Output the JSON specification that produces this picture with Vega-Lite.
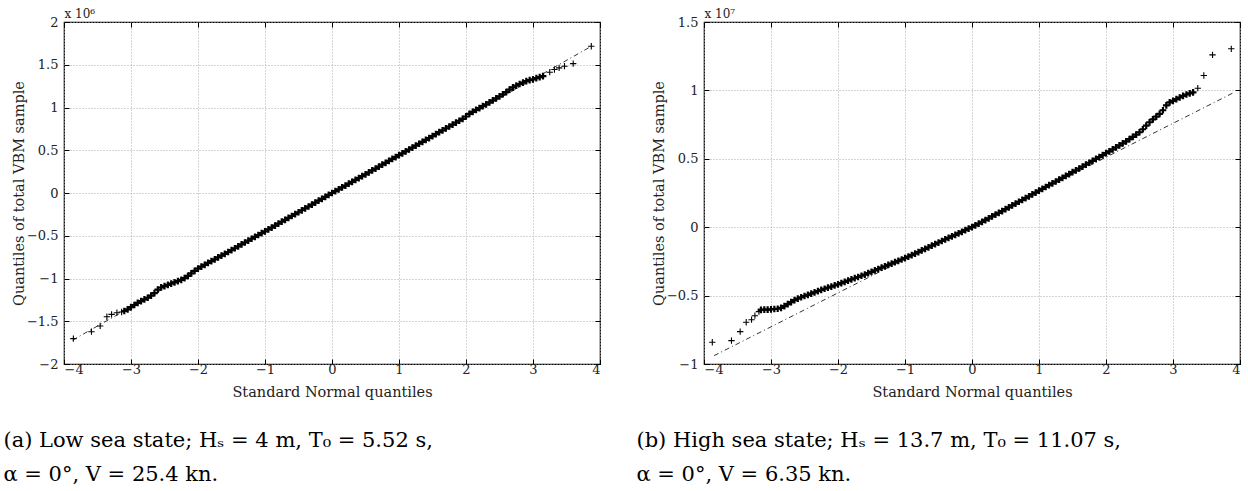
{
"$schema": "https://vega.github.io/schema/vega-lite/v6.json",
"padding": {"left": 2, "top": 6, "right": 2, "bottom": 2},
"background": "white",
"config": {
 "view": {"stroke": "#000", "strokeWidth": 1.2},
 "font": "DejaVu Serif",
 "axis": {"labelFont": "DejaVu Serif", "titleFont": "DejaVu Serif", "labelFontSize": 13, "titleFontSize": 14.5, "titleFontWeight": "normal", "labelColor": "#222", "titleColor": "#222", "tickColor": "#000", "tickSize": -5, "domain": false, "gridColor": "#aaaaaa", "gridDash": [1, 2], "gridWidth": 1, "format": "~g"},
 "title": {"font": "DejaVu Serif", "fontWeight": "normal", "color": "#000"}
},
"datasets": {
 "a_line": [{"q": -3.87, "v": -1.72}, {"q": 3.88, "v": 1.72}],
 "b_line": [{"q": -3.85, "v": -0.939}, {"q": 3.89, "v": 0.98}],
 "a_tail": [
  {"q": -3.86, "v": -1.703}, {"q": -3.59, "v": -1.622}, {"q": -3.46, "v": -1.555}, {"q": -3.36, "v": -1.447}, {"q": -3.29, "v": -1.42}, {"q": -3.21, "v": -1.4}, {"q": -3.14, "v": -1.392},
  {"q": 3.25, "v": 1.413}, {"q": 3.32, "v": 1.444}, {"q": 3.39, "v": 1.463}, {"q": 3.47, "v": 1.483}, {"q": 3.6, "v": 1.513}, {"q": 3.87, "v": 1.716}
 ],
 "a_pts": [
  {"q": -3.1, "v": -1.38}, {"q": -3.05, "v": -1.36}, {"q": -3.0, "v": -1.335}, {"q": -2.95, "v": -1.31}, {"q": -2.9, "v": -1.285}, {"q": -2.85, "v": -1.265}, {"q": -2.8, "v": -1.245}, {"q": -2.75, "v": -1.225}, {"q": -2.7, "v": -1.2}, {"q": -2.65, "v": -1.17}, {"q": -2.6, "v": -1.13}, {"q": -2.55, "v": -1.105}, {"q": -2.5, "v": -1.09}, {"q": -2.45, "v": -1.075}, {"q": -2.4, "v": -1.06}, {"q": -2.35, "v": -1.045}, {"q": -2.3, "v": -1.03}, {"q": -2.25, "v": -1.015}, {"q": -2.2, "v": -0.995}, {"q": -2.15, "v": -0.97}, {"q": -2.1, "v": -0.94}, {"q": -2.05, "v": -0.91},
  {"q": -2.0, "v": -0.885}, {"q": -1.95, "v": -0.862}, {"q": -1.9, "v": -0.84}, {"q": -1.85, "v": -0.818}, {"q": -1.8, "v": -0.797}, {"q": -1.75, "v": -0.776}, {"q": -1.7, "v": -0.754}, {"q": -1.65, "v": -0.733}, {"q": -1.6, "v": -0.712}, {"q": -1.55, "v": -0.69}, {"q": -1.5, "v": -0.668}, {"q": -1.45, "v": -0.646}, {"q": -1.4, "v": -0.624}, {"q": -1.35, "v": -0.601}, {"q": -1.3, "v": -0.579}, {"q": -1.25, "v": -0.557}, {"q": -1.2, "v": -0.535}, {"q": -1.15, "v": -0.513}, {"q": -1.1, "v": -0.491}, {"q": -1.05, "v": -0.47},
  {"q": -1.0, "v": -0.448}, {"q": -0.95, "v": -0.426}, {"q": -0.9, "v": -0.404}, {"q": -0.85, "v": -0.381}, {"q": -0.8, "v": -0.359}, {"q": -0.75, "v": -0.336}, {"q": -0.7, "v": -0.314}, {"q": -0.65, "v": -0.292}, {"q": -0.6, "v": -0.269}, {"q": -0.55, "v": -0.247}, {"q": -0.5, "v": -0.225}, {"q": -0.45, "v": -0.202}, {"q": -0.4, "v": -0.18}, {"q": -0.35, "v": -0.158}, {"q": -0.3, "v": -0.135}, {"q": -0.25, "v": -0.112}, {"q": -0.2, "v": -0.09}, {"q": -0.15, "v": -0.068}, {"q": -0.1, "v": -0.045}, {"q": -0.05, "v": -0.022},
  {"q": 0.0, "v": 0.0}, {"q": 0.05, "v": 0.021}, {"q": 0.1, "v": 0.043}, {"q": 0.15, "v": 0.065}, {"q": 0.2, "v": 0.087}, {"q": 0.25, "v": 0.109}, {"q": 0.3, "v": 0.131}, {"q": 0.35, "v": 0.153}, {"q": 0.4, "v": 0.175}, {"q": 0.45, "v": 0.197}, {"q": 0.5, "v": 0.219}, {"q": 0.55, "v": 0.241}, {"q": 0.6, "v": 0.264}, {"q": 0.65, "v": 0.286}, {"q": 0.7, "v": 0.308}, {"q": 0.75, "v": 0.331}, {"q": 0.8, "v": 0.353}, {"q": 0.85, "v": 0.375}, {"q": 0.9, "v": 0.398}, {"q": 0.95, "v": 0.42},
  {"q": 1.0, "v": 0.442}, {"q": 1.05, "v": 0.464}, {"q": 1.1, "v": 0.486}, {"q": 1.15, "v": 0.509}, {"q": 1.2, "v": 0.531}, {"q": 1.25, "v": 0.554}, {"q": 1.3, "v": 0.576}, {"q": 1.35, "v": 0.598}, {"q": 1.4, "v": 0.621}, {"q": 1.45, "v": 0.643}, {"q": 1.5, "v": 0.665}, {"q": 1.55, "v": 0.688}, {"q": 1.6, "v": 0.711}, {"q": 1.65, "v": 0.733}, {"q": 1.7, "v": 0.756}, {"q": 1.75, "v": 0.778}, {"q": 1.8, "v": 0.8}, {"q": 1.85, "v": 0.823}, {"q": 1.9, "v": 0.845}, {"q": 1.95, "v": 0.868},
  {"q": 2.0, "v": 0.895}, {"q": 2.05, "v": 0.925}, {"q": 2.1, "v": 0.95}, {"q": 2.15, "v": 0.972}, {"q": 2.2, "v": 0.993}, {"q": 2.25, "v": 1.015}, {"q": 2.3, "v": 1.037}, {"q": 2.35, "v": 1.06}, {"q": 2.4, "v": 1.083}, {"q": 2.45, "v": 1.106}, {"q": 2.5, "v": 1.13}, {"q": 2.55, "v": 1.155}, {"q": 2.6, "v": 1.18}, {"q": 2.65, "v": 1.21}, {"q": 2.7, "v": 1.235}, {"q": 2.75, "v": 1.255}, {"q": 2.8, "v": 1.275}, {"q": 2.85, "v": 1.292}, {"q": 2.9, "v": 1.308}, {"q": 2.95, "v": 1.32}, {"q": 3.0, "v": 1.33}, {"q": 3.05, "v": 1.343}, {"q": 3.1, "v": 1.355}, {"q": 3.15, "v": 1.368}
 ],
 "b_tail": [
  {"q": -3.876, "v": -0.841}, {"q": -3.59, "v": -0.829}, {"q": -3.46, "v": -0.763}, {"q": -3.37, "v": -0.695}, {"q": -3.29, "v": -0.676}, {"q": -3.24, "v": -0.647}, {"q": -3.18, "v": -0.617},
  {"q": 3.37, "v": 1.016}, {"q": 3.46, "v": 1.109}, {"q": 3.59, "v": 1.26}, {"q": 3.87, "v": 1.304}
 ],
 "b_pts": [
  {"q": -3.15, "v": -0.605}, {"q": -3.1, "v": -0.603}, {"q": -3.05, "v": -0.602}, {"q": -3.0, "v": -0.6}, {"q": -2.95, "v": -0.598}, {"q": -2.9, "v": -0.596}, {"q": -2.85, "v": -0.59}, {"q": -2.8, "v": -0.577}, {"q": -2.75, "v": -0.562}, {"q": -2.7, "v": -0.547}, {"q": -2.65, "v": -0.533}, {"q": -2.6, "v": -0.522}, {"q": -2.55, "v": -0.512}, {"q": -2.5, "v": -0.503}, {"q": -2.45, "v": -0.494}, {"q": -2.4, "v": -0.485}, {"q": -2.35, "v": -0.476}, {"q": -2.3, "v": -0.467}, {"q": -2.25, "v": -0.458}, {"q": -2.2, "v": -0.45}, {"q": -2.15, "v": -0.442}, {"q": -2.1, "v": -0.434}, {"q": -2.05, "v": -0.426},
  {"q": -2.0, "v": -0.418}, {"q": -1.95, "v": -0.409}, {"q": -1.9, "v": -0.4}, {"q": -1.85, "v": -0.391}, {"q": -1.8, "v": -0.382}, {"q": -1.75, "v": -0.373}, {"q": -1.7, "v": -0.364}, {"q": -1.65, "v": -0.355}, {"q": -1.6, "v": -0.346}, {"q": -1.55, "v": -0.336}, {"q": -1.5, "v": -0.326}, {"q": -1.45, "v": -0.316}, {"q": -1.4, "v": -0.306}, {"q": -1.35, "v": -0.296}, {"q": -1.3, "v": -0.286}, {"q": -1.25, "v": -0.276}, {"q": -1.2, "v": -0.266}, {"q": -1.15, "v": -0.256}, {"q": -1.1, "v": -0.246}, {"q": -1.05, "v": -0.236},
  {"q": -1.0, "v": -0.226}, {"q": -0.95, "v": -0.215}, {"q": -0.9, "v": -0.204}, {"q": -0.85, "v": -0.193}, {"q": -0.8, "v": -0.182}, {"q": -0.75, "v": -0.17}, {"q": -0.7, "v": -0.159}, {"q": -0.65, "v": -0.147}, {"q": -0.6, "v": -0.135}, {"q": -0.55, "v": -0.124}, {"q": -0.5, "v": -0.112}, {"q": -0.45, "v": -0.101}, {"q": -0.4, "v": -0.089}, {"q": -0.35, "v": -0.078}, {"q": -0.3, "v": -0.067}, {"q": -0.25, "v": -0.056}, {"q": -0.2, "v": -0.045}, {"q": -0.15, "v": -0.034}, {"q": -0.1, "v": -0.022}, {"q": -0.05, "v": -0.011},
  {"q": 0.0, "v": 0.0}, {"q": 0.05, "v": 0.013}, {"q": 0.1, "v": 0.026}, {"q": 0.15, "v": 0.039}, {"q": 0.2, "v": 0.052}, {"q": 0.25, "v": 0.065}, {"q": 0.3, "v": 0.079}, {"q": 0.35, "v": 0.092}, {"q": 0.4, "v": 0.105}, {"q": 0.45, "v": 0.118}, {"q": 0.5, "v": 0.132}, {"q": 0.55, "v": 0.145}, {"q": 0.6, "v": 0.159}, {"q": 0.65, "v": 0.172}, {"q": 0.7, "v": 0.186}, {"q": 0.75, "v": 0.199}, {"q": 0.8, "v": 0.213}, {"q": 0.85, "v": 0.226}, {"q": 0.9, "v": 0.24}, {"q": 0.95, "v": 0.253},
  {"q": 1.0, "v": 0.267}, {"q": 1.05, "v": 0.28}, {"q": 1.1, "v": 0.294}, {"q": 1.15, "v": 0.307}, {"q": 1.2, "v": 0.321}, {"q": 1.25, "v": 0.334}, {"q": 1.3, "v": 0.348}, {"q": 1.35, "v": 0.361}, {"q": 1.4, "v": 0.375}, {"q": 1.45, "v": 0.388}, {"q": 1.5, "v": 0.402}, {"q": 1.55, "v": 0.415}, {"q": 1.6, "v": 0.429}, {"q": 1.65, "v": 0.443}, {"q": 1.7, "v": 0.457}, {"q": 1.75, "v": 0.471}, {"q": 1.8, "v": 0.485}, {"q": 1.85, "v": 0.499}, {"q": 1.9, "v": 0.513}, {"q": 1.95, "v": 0.527},
  {"q": 2.0, "v": 0.541}, {"q": 2.05, "v": 0.555}, {"q": 2.1, "v": 0.569}, {"q": 2.15, "v": 0.583}, {"q": 2.2, "v": 0.598}, {"q": 2.25, "v": 0.613}, {"q": 2.3, "v": 0.628}, {"q": 2.35, "v": 0.644}, {"q": 2.4, "v": 0.66}, {"q": 2.45, "v": 0.676}, {"q": 2.5, "v": 0.694}, {"q": 2.55, "v": 0.716}, {"q": 2.6, "v": 0.742}, {"q": 2.65, "v": 0.767}, {"q": 2.7, "v": 0.788}, {"q": 2.75, "v": 0.808}, {"q": 2.8, "v": 0.828}, {"q": 2.85, "v": 0.855}, {"q": 2.9, "v": 0.89}, {"q": 2.95, "v": 0.912}, {"q": 3.0, "v": 0.924}, {"q": 3.05, "v": 0.936}, {"q": 3.1, "v": 0.948}, {"q": 3.15, "v": 0.96}, {"q": 3.2, "v": 0.97}, {"q": 3.25, "v": 0.978}, {"q": 3.3, "v": 0.986}
 ]
},
"bounds": "flush",
"spacing": 104,
"hconcat": [
 {
  "width": 536, "height": 342,
  "title": {"text": ["(a) Low sea state; Hₛ = 4 m, T₀ = 5.52 s,", "α = 0°, V = 25.4 kn."], "orient": "bottom", "anchor": "start", "dx": -8, "offset": 31, "fontSize": 21, "lineHeight": 34},
  "resolve": {"axis": {"x": "independent", "y": "independent"}},
  "layer": [
   {"data": {"name": "a_line"}, "mark": {"type": "line", "color": "#000", "strokeWidth": 0.8, "strokeDash": [5, 3, 1, 3]},
    "encoding": {
     "x": {"field": "q", "type": "quantitative", "scale": {"domain": [-4, 4], "nice": false}, "axis": {"orient": "bottom", "values": [-4, -3, -2, -1, 0, 1, 2, 3, 4], "title": "Standard Normal quantiles", "grid": true, "labelPadding": 4, "titlePadding": 9}},
     "y": {"field": "v", "type": "quantitative", "scale": {"domain": [-2, 2], "nice": false, "zero": false}, "axis": {"orient": "left", "values": [-2, -1.5, -1, -0.5, 0, 0.5, 1, 1.5, 2], "title": "Quantiles of total VBM sample", "grid": true, "labelPadding": 11, "titlePadding": 0}}
    }},
   {"data": {"name": "a_pts"}, "mark": {"type": "point", "shape": "M-1,0H1M0,-1V1", "size": 45, "filled": false, "color": "#000", "strokeWidth": 2.2, "opacity": 1},
    "encoding": {
     "x": {"field": "q", "type": "quantitative", "scale": {"domain": [-4, 4], "nice": false}, "axis": {"orient": "top", "values": [-4, -3, -2, -1, 0, 1, 2, 3, 4], "labels": false, "grid": false, "title": "x 10⁶", "titleAnchor": "start", "titleAlign": "left", "titleFontSize": 12, "titlePadding": 1}},
     "y": {"field": "v", "type": "quantitative", "scale": {"domain": [-2, 2], "nice": false, "zero": false}, "axis": {"orient": "right", "values": [-2, -1.5, -1, -0.5, 0, 0.5, 1, 1.5, 2], "labels": false, "grid": false, "title": null}}
    }},
   {"data": {"name": "a_tail"}, "mark": {"type": "point", "shape": "M-1,0H1M0,-1V1", "size": 40, "filled": false, "color": "#000", "strokeWidth": 1.1, "opacity": 1},
    "encoding": {
     "x": {"field": "q", "type": "quantitative", "axis": null},
     "y": {"field": "v", "type": "quantitative", "axis": null}
    }}
  ]
 },
 {
  "width": 536, "height": 342,
  "title": {"text": ["(b) High sea state; Hₛ = 13.7 m, T₀ = 11.07 s,", "α = 0°, V = 6.35 kn."], "orient": "bottom", "anchor": "start", "dx": -15, "offset": 31, "fontSize": 21, "lineHeight": 34},
  "resolve": {"axis": {"x": "independent", "y": "independent"}},
  "layer": [
   {"data": {"name": "b_line"}, "mark": {"type": "line", "color": "#000", "strokeWidth": 0.8, "strokeDash": [5, 3, 1, 3]},
    "encoding": {
     "x": {"field": "q", "type": "quantitative", "scale": {"domain": [-4, 4], "nice": false}, "axis": {"orient": "bottom", "values": [-4, -3, -2, -1, 0, 1, 2, 3, 4], "title": "Standard Normal quantiles", "grid": true, "labelPadding": 4, "titlePadding": 9}},
     "y": {"field": "v", "type": "quantitative", "scale": {"domain": [-1, 1.5], "nice": false, "zero": false}, "axis": {"orient": "left", "values": [-1, -0.5, 0, 0.5, 1, 1.5], "title": "Quantiles of total VBM sample", "grid": true, "labelPadding": 11, "titlePadding": 0}}
    }},
   {"data": {"name": "b_pts"}, "mark": {"type": "point", "shape": "M-1,0H1M0,-1V1", "size": 45, "filled": false, "color": "#000", "strokeWidth": 2.2, "opacity": 1},
    "encoding": {
     "x": {"field": "q", "type": "quantitative", "scale": {"domain": [-4, 4], "nice": false}, "axis": {"orient": "top", "values": [-4, -3, -2, -1, 0, 1, 2, 3, 4], "labels": false, "grid": false, "title": "x 10⁷", "titleAnchor": "start", "titleAlign": "left", "titleFontSize": 12, "titlePadding": 1}},
     "y": {"field": "v", "type": "quantitative", "scale": {"domain": [-1, 1.5], "nice": false, "zero": false}, "axis": {"orient": "right", "values": [-1, -0.5, 0, 0.5, 1, 1.5], "labels": false, "grid": false, "title": null}}
    }},
   {"data": {"name": "b_tail"}, "mark": {"type": "point", "shape": "M-1,0H1M0,-1V1", "size": 40, "filled": false, "color": "#000", "strokeWidth": 1.1, "opacity": 1},
    "encoding": {
     "x": {"field": "q", "type": "quantitative", "axis": null},
     "y": {"field": "v", "type": "quantitative", "axis": null}
    }}
  ]
 }
]
}
